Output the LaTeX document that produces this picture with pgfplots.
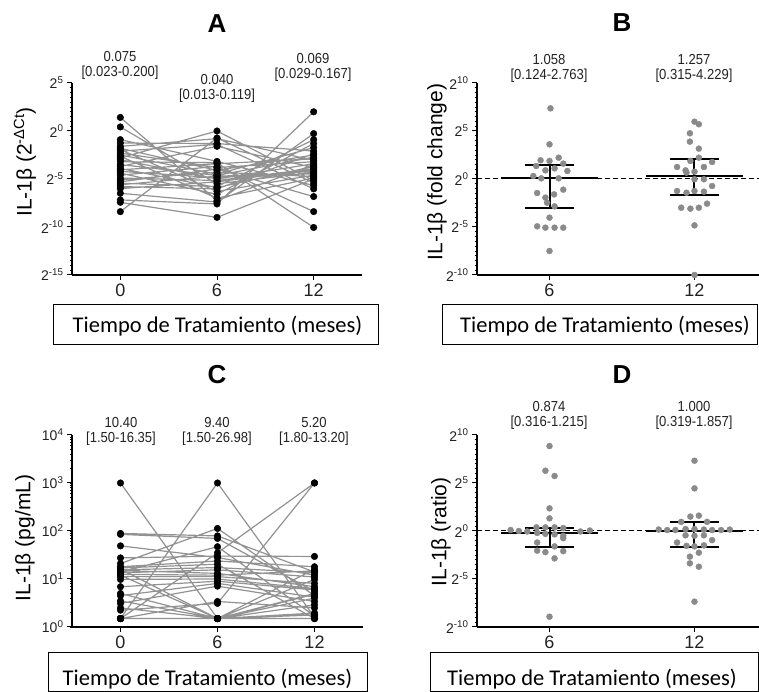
\documentclass[border=0pt]{standalone}
\usepackage{fontspec}
\setmainfont{Liberation Sans}
\newfontfamily\boxfont{Carlito}
\newfontfamily\annfont[FakeStretch=0.9]{Liberation Sans}
\usepackage{pgfplots}
\pgfplotsset{compat=1.18}
\usepackage{pgfplotstable}

\definecolor{linegray}{HTML}{929292}
\definecolor{dotgray}{HTML}{8A8A8A}
\definecolor{txt}{HTML}{222222}

\pgfplotsset{
 panel/.style={scale only axis, anchor=south west, axis x line=bottom, axis y line=left,
   axis line style={-, line width=1.5pt, black},
   tick style={black, line width=1pt},
   minor tick style={black, line width=0.7pt},
   major tick length=5pt, minor tick length=2.5pt, tick align=outside,
   clip=false,
   xticklabel style={font=\fontsize{18}{18}\selectfont, text=txt},
   yticklabel style={font=\fontsize{14}{14}\selectfont, text=txt},
   unbounded coords=jump,
 },
 bar/.style={black, line width=2pt},
}

% Panel A: log2 values (exponents), one subject per block
\pgfplotstableread{
x y
0 1.41
6 -7.25
12 -3.5
nan nan
0 0.42
6 -5.5
12 -4.3
nan nan
0 -0.9
6 -3.17
12 -5.68
nan nan
0 -1.25
6 -1.31
12 -2.09
nan nan
0 -1.6
6 -0.8
12 -3.06
nan nan
0 -1.8
6 -4.1
12 -2.5
nan nan
0 -1.94
6 -6.3
12 -4.6
nan nan
0 -2.1
6 -1.4
12 -6.03
nan nan
0 -2.3
6 -3.8
12 -3.2
nan nan
0 -2.5
6 -4.5
12 -1.73
nan nan
0 -2.64
6 -7.0
12 -4.9
nan nan
0 -2.8
6 0.0
12 -5.16
nan nan
0 -2.99
6 -5.0
12 -3.41
nan nan
0 -3.2
6 -3.3
12 -10.05
nan nan
0 -3.5
6 -4.63
12 -2.72
nan nan
0 -3.69
6 -1.6
12 -3.8
nan nan
0 -3.9
6 -5.9
12 -3.69
nan nan
0 -4.04
6 -3.41
12 -2.9
nan nan
0 -4.2
6 -4.87
12 -4.18
nan nan
0 -4.39
6 -6.6
12 -1.31
nan nan
0 -4.6
6 -3.69
12 -8.4
nan nan
0 -4.9
6 -5.16
12 -3.93
nan nan
0 -5.08
6 -4.29
12 -4.74
nan nan
0 -5.3
6 -3.97
12 -6.83
nan nan
0 -5.44
6 -5.79
12 -0.9
nan nan
0 -5.6
6 -4.7
12 -4.46
nan nan
0 -5.79
6 -6.03
12 -2.36
nan nan
0 -6.0
6 -5.3
12 -4.0
nan nan
0 -6.49
6 -7.4
12 -0.27
nan nan
0 -7.18
6 -7.6
12 2.0
nan nan
0 -7.43
6 -9.0
12 -5.0
nan nan
0 -8.4
6 -0.73
12 -5.4
}\tabA

% Panel C: pg/mL values, one subject per block
\pgfplotstableread{
x y
0 1000
6 1.5
12 5.0
nan nan
0 1.5
6 1000
12 1.6
nan nan
0 2.24
6 3.1
12 1000
nan nan
0 1.5
6 35
12 1000
nan nan
0 89
6 79
12 14
nan nan
0 85
6 70
12 5.5
nan nan
0 49
6 28
12 12
nan nan
0 27.5
6 30
12 29.5
nan nan
0 21
6 113
12 4.5
nan nan
0 18
6 23.7
12 18
nan nan
0 17
6 20.3
12 1.5
nan nan
0 16
6 1.5
12 16
nan nan
0 15.5
6 17.3
12 13.5
nan nan
0 15
6 13.1
12 6.9
nan nan
0 14
6 47
12 1.7
nan nan
0 13.5
6 15.5
12 11
nan nan
0 12.5
6 12
12 14.8
nan nan
0 12
6 1.5
12 9.8
nan nan
0 11.2
6 11.2
12 8.1
nan nan
0 9.8
6 10
12 6.3
nan nan
0 6.9
6 9.0
12 5.9
nan nan
0 5.0
6 1.5
12 4.8
nan nan
0 4.5
6 8.1
12 4.2
nan nan
0 3.5
6 1.5
12 4.0
nan nan
0 3.1
6 7.1
12 3.4
nan nan
0 2.5
6 1.5
12 2.9
nan nan
0 1.5
6 3.4
12 2.5
nan nan
0 1.5
6 1.5
12 1.95
nan nan
0 1.5
6 1.5
12 1.8
nan nan
0 1.5
6 1.5
12 1.78
nan nan
0 1.5
6 1.5
12 1.5
nan nan
0 1.5
6 1.5
12 1.5
}\tabC

% Panel B: fold change (log2 exponents)
\pgfplotstableread{
x y
6.04 7.36
6.0 3.61
5.63 1.95
6.0 1.88
6.38 2.22
5.45 1.35
6.21 1.11
6.57 1.6
5.83 0.9
6.74 0.83
5.33 0.31
5.66 0.07
6.38 0.07
5.49 -1.46
6.19 -1.6
6.57 -1.11
5.83 -1.94
5.9 -2.47
6.21 -2.85
6.0 -4.03
5.49 -4.93
5.83 -5.07
6.21 -5.07
6.57 -5.07
6.0 -7.5
12.0 5.97
12.18 5.7
11.81 4.76
11.81 3.89
12.18 3.16
12.18 2.22
11.83 1.88
12.73 1.77
11.28 1.25
12.39 1.25
11.63 0.9
12.0 0.76
11.67 0.66
12.0 -0.03
12.39 -0.03
12.73 -0.73
11.28 -1.25
11.67 -1.43
12.39 -1.32
12.0 -1.25
12.52 -2.57
11.45 -2.99
11.83 -3.09
12.18 -2.99
12.0 -4.83
12.0 -10
}\tabB

% Panel D: ratio (log2 exponents)
\pgfplotstableread{
x y
6.0 8.85
5.83 6.28
6.21 5.73
6.0 2.36
6.0 1.32
4.39 0.1
4.73 0.0
5.08 -0.05
7.28 -0.05
7.67 0.05
5.46 0.38
5.83 0.38
6.21 0.38
6.57 0.3
5.49 -0.2
5.83 -0.3
6.21 -0.35
6.57 -0.5
6.57 -0.75
5.49 -1.2
6.21 -1.6
5.49 -2.05
5.83 -2.2
6.57 -2.1
6.21 -2.85
6.0 -8.93
12.0 7.32
12.0 4.44
11.83 1.5
12.18 1.6
11.45 0.95
12.52 0.95
10.52 0.15
10.87 0.1
11.21 0.1
11.63 0.2
12.0 0.2
12.39 0.15
12.73 0.1
13.1 0.1
13.46 0.15
11.63 -0.45
12.0 -0.5
12.39 -0.45
11.28 -1.2
12.73 -0.95
11.67 -1.55
12.0 -1.6
12.39 -1.5
11.81 -2.67
12.18 -2.26
11.81 -3.37
12.18 -3.72
12.0 -7.36
}\tabD

\begin{document}
\begin{tikzpicture}
\useasboundingbox (0,0) rectangle (759pt,692pt);

% ---------------- Panel A ----------------
\begin{axis}[panel, at={(72pt,417pt)}, width=290pt, height=192pt,
  xmin=-3, xmax=15, ymin=-15, ymax=5,
  xtick={0,6,12}, xticklabels={0,6,12},
  ytick={-15,-10,-5,0,5},
  yticklabels={2\textsuperscript{-15},2\textsuperscript{-10},2\textsuperscript{-5},2\textsuperscript{0},2\textsuperscript{5}},
  minor y tick num=9]
\addplot[linegray, line width=1.2pt] table[x=x,y=y] {\tabA};
\addplot[only marks, mark=*, mark size=3.3pt, black] table[x=x,y=y] {\tabA};
\end{axis}

% ---------------- Panel B ----------------
\begin{axis}[panel, at={(477pt,417pt)}, width=282pt, height=192pt,
  xmin=3, xmax=14.67, ymin=-10, ymax=10,
  xtick={6,12}, xticklabels={6,12},
  ytick={-10,-5,0,5,10},
  yticklabels={2\textsuperscript{-10},2\textsuperscript{-5},2\textsuperscript{0},2\textsuperscript{5},2\textsuperscript{10}},
  minor y tick num=9]
\addplot[only marks, mark=*, mark size=3pt, dotgray] table[x=x,y=y] {\tabB};
\addplot[black, line width=1pt, dash pattern=on 5pt off 3pt] coordinates {(3,0)(14.67,0)};
\addplot[bar] coordinates {(4,0.081)(8,0.081)};
\addplot[bar] coordinates {(5,1.466)(7,1.466)};
\addplot[bar] coordinates {(5,-3.012)(7,-3.012)};
\addplot[bar] coordinates {(6,-3.012)(6,1.466)};
\addplot[bar] coordinates {(10,0.330)(14,0.330)};
\addplot[bar] coordinates {(11,2.080)(13,2.080)};
\addplot[bar] coordinates {(11,-1.667)(13,-1.667)};
\addplot[bar] coordinates {(12,-1.667)(12,2.080)};
\end{axis}

% ---------------- Panel C ----------------
\begin{axis}[panel, at={(72pt,65pt)}, width=291pt, height=192pt,
  ymode=log, xmin=-3, xmax=15, ymin=1, ymax=10000,
  xtick={0,6,12}, xticklabels={0,6,12},
  ytick={1,10,100,1000,10000},
  yticklabels={10\textsuperscript{0},10\textsuperscript{1},10\textsuperscript{2},10\textsuperscript{3},10\textsuperscript{4}}]
\addplot[linegray, line width=1.2pt] table[x=x,y=y] {\tabC};
\addplot[only marks, mark=*, mark size=3.3pt, black] table[x=x,y=y] {\tabC};
\end{axis}

% ---------------- Panel D ----------------
\begin{axis}[panel, at={(477pt,65pt)}, width=282pt, height=192pt,
  xmin=3, xmax=14.67, ymin=-10, ymax=10,
  xtick={6,12}, xticklabels={6,12},
  ytick={-10,-5,0,5,10},
  yticklabels={2\textsuperscript{-10},2\textsuperscript{-5},2\textsuperscript{0},2\textsuperscript{5},2\textsuperscript{10}},
  minor y tick num=9]
\addplot[only marks, mark=*, mark size=3pt, dotgray] table[x=x,y=y] {\tabD};
\addplot[black, line width=1pt, dash pattern=on 5pt off 3pt] coordinates {(3,0)(14.67,0)};
\addplot[bar] coordinates {(4,-0.194)(8,-0.194)};
\addplot[bar] coordinates {(5,0.281)(7,0.281)};
\addplot[bar] coordinates {(5,-1.662)(7,-1.662)};
\addplot[bar] coordinates {(6,-1.662)(6,0.281)};
\addplot[bar] coordinates {(10,0)(14,0)};
\addplot[bar] coordinates {(11,0.893)(13,0.893)};
\addplot[bar] coordinates {(11,-1.648)(13,-1.648)};
\addplot[bar] coordinates {(12,-1.648)(12,0.893)};
\end{axis}

% ---------------- Titles ----------------
\begin{scope}[every node/.style={font=\bfseries\fontsize{26}{26}\selectfont}]
\node at (217pt,668pt) {A};
\node at (622pt,669pt) {B};
\node at (217pt,317pt) {C};
\node at (622pt,317pt) {D};
\end{scope}

% ---------------- Annotations ----------------
\begin{scope}[every node/.style={font=\annfont\fontsize{14.5}{14.5}\selectfont, text=txt, inner sep=0pt}]
\node at (120pt,635.5pt) {0.075};
\node at (120pt,619.5pt) {[0.023-0.200]};
\node at (217pt,612.5pt) {0.040};
\node at (217pt,596.5pt) {[0.013-0.119]};
\node at (313pt,633.5pt) {0.069};
\node at (313pt,617.5pt) {[0.029-0.167]};
\node at (549pt,632.5pt) {1.058};
\node at (549pt,616.5pt) {[0.124-2.763]};
\node at (694pt,632.5pt) {1.257};
\node at (694pt,616.5pt) {[0.315-4.229]};
\node at (121pt,269.5pt) {10.40};
\node at (121pt,253.5pt) {[1.50-16.35]};
\node at (217pt,269.5pt) {9.40};
\node at (217pt,253.5pt) {[1.50-26.98]};
\node at (314pt,269.5pt) {5.20};
\node at (314pt,253.5pt) {[1.80-13.20]};
\node at (549pt,285.5pt) {0.874};
\node at (549pt,269.5pt) {[0.316-1.215]};
\node at (694pt,285.5pt) {1.000};
\node at (694pt,269.5pt) {[0.319-1.857]};
\end{scope}

% ---------------- Y labels ----------------
\begin{scope}[every node/.style={rotate=90, font=\fontsize{21}{21}\selectfont}]
\node at (25pt,530pt) {IL-1β (2\textsuperscript{-ΔCt})};
\node at (437pt,520pt) {IL-1β (fold change)};
\node at (25pt,154pt) {IL-1β (pg/mL)};
\node at (441pt,160pt) {IL-1β (ratio)};
\end{scope}

% ---------------- X label boxes ----------------
\draw[line width=0.8pt] (53pt,348pt) rectangle (378pt,388pt);
\draw[line width=0.8pt] (442pt,348pt) rectangle (757pt,388pt);
\draw[line width=0.8pt] (48pt,1pt) rectangle (367pt,40pt);
\draw[line width=0.8pt] (430pt,1pt) rectangle (758.5pt,40pt);
\begin{scope}[every node/.style={font=\boxfont\fontsize{22.5}{22.5}\selectfont, anchor=base, inner sep=0pt}]
\node at (217.5pt,359pt) {Tiempo de Tratamiento (meses)};
\node at (605pt,359pt) {Tiempo de Tratamiento (meses)};
\node at (207.5pt,6pt) {Tiempo de Tratamiento (meses)};
\node at (592pt,6pt) {Tiempo de Tratamiento (meses)};
\end{scope}
\end{tikzpicture}
\end{document}
